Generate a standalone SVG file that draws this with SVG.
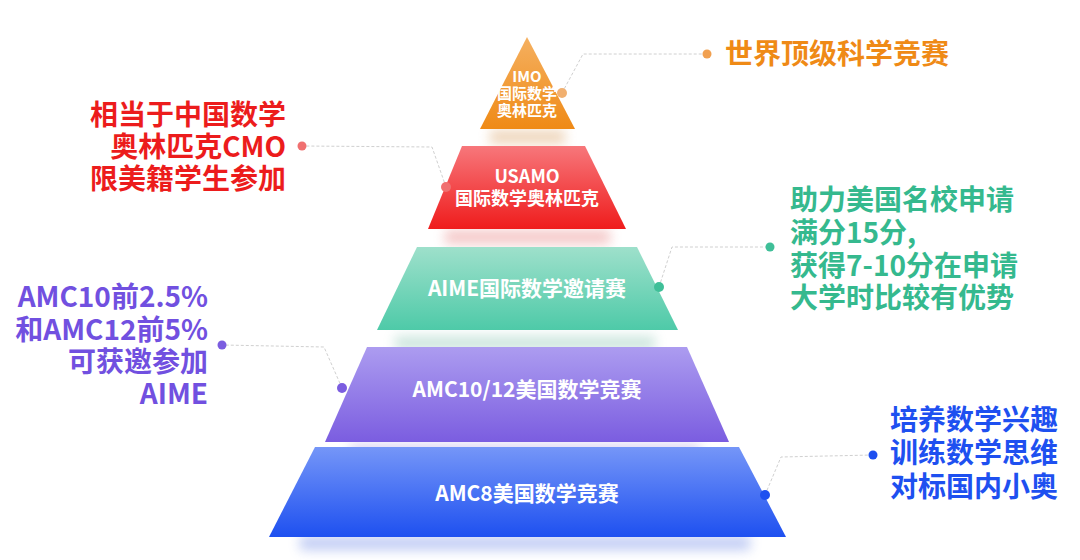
<svg xmlns="http://www.w3.org/2000/svg" width="1080" height="560" viewBox="0 0 1080 560">
<style>
.t{font-family:"Noto Sans CJK SC","Noto Sans",sans-serif;font-weight:700;fill:#fff}
.n{font-family:"Noto Sans CJK SC","Noto Sans",sans-serif;font-weight:700;font-size:28px}
.ld{fill:none;stroke:#d0d0d0;stroke-width:1;stroke-dasharray:3 2}
</style>
<defs>
<linearGradient id="g1" x1="0" y1="0" x2="0" y2="1"><stop offset="0" stop-color="#f5b060"/><stop offset="1" stop-color="#ef8a16"/></linearGradient>
<linearGradient id="g2" x1="0" y1="0" x2="0" y2="1"><stop offset="0" stop-color="#f7777b"/><stop offset="1" stop-color="#ef1c1c"/></linearGradient>
<linearGradient id="g3" x1="0" y1="0" x2="0" y2="1"><stop offset="0" stop-color="#9ee0cb"/><stop offset="1" stop-color="#4ecaa8"/></linearGradient>
<linearGradient id="g4" x1="0" y1="0" x2="0" y2="1"><stop offset="0" stop-color="#ac9cf0"/><stop offset="1" stop-color="#7b5de0"/></linearGradient>
<linearGradient id="g5" x1="0" y1="0" x2="0" y2="1"><stop offset="0" stop-color="#7596f8"/><stop offset="1" stop-color="#1e50f0"/></linearGradient>
<filter id="sh" x="-20%" y="-20%" width="140%" height="160%"><feGaussianBlur stdDeviation="6"/></filter>
</defs>
<g id="shadows" opacity="0.35" filter="url(#sh)">
<rect x="490" y="130" width="75" height="14" fill="#d08a40"/>
<rect x="445" y="230" width="165" height="14" fill="#e06060"/>
<rect x="395" y="336" width="260" height="14" fill="#70b8a0"/>
<rect x="350" y="443" width="350" height="14" fill="#a090e0"/>
<rect x="300" y="536" width="450" height="14" fill="#5070e0"/>
</g>
<g id="connectors">
<polyline class="ld" points="562,93 583,54 707,54"/>
<polyline class="ld" points="446,187 432,147 302,146"/>
<polyline class="ld" points="659,287 672,247 770,247"/>
<polyline class="ld" points="342,388 324,347 222,345"/>
<polyline class="ld" points="765,495 781,457 873,455"/>
</g>
<g id="imo">
<polygon points="527,37 575,129 480,129" fill="url(#g1)"/>
<text class="t" text-anchor="middle" font-size="15"><tspan x="527" y="82">IMO</tspan><tspan x="527" y="99">国际数学</tspan><tspan x="527" y="116">奥林匹克</tspan></text>
<circle cx="562" cy="93" r="5" fill="#f1b070"/>
<circle cx="707" cy="54" r="4.5" fill="#f1a050"/>
<text class="n" x="725" y="64" fill="#ef8a16">世界顶级科学竞赛</text>
</g>
<g id="usamo">
<polygon points="462,146 585,146 626,229 428,229" fill="url(#g2)"/>
<text class="t" text-anchor="middle" font-size="18"><tspan x="527" y="183">USAMO</tspan><tspan x="527" y="205">国际数学奥林匹克</tspan></text>
<circle cx="446" cy="187" r="5" fill="#f07070"/>
<circle cx="302" cy="146" r="4.5" fill="#f07070"/>
<text class="n" text-anchor="end" fill="#ec1c1c"><tspan x="286" y="125">相当于中国数学</tspan><tspan x="286" y="157">奥林匹克CMO</tspan><tspan x="286" y="189">限美籍学生参加</tspan></text>
</g>
<g id="aime">
<polygon points="417,247 637,247 678,330 377,330" fill="url(#g3)"/>
<text class="t" x="527" y="296" text-anchor="middle" font-size="21">AIME国际数学邀请赛</text>
<circle cx="659" cy="287" r="5" fill="#3fbf98"/>
<circle cx="770" cy="247" r="4.5" fill="#3fbf98"/>
<text class="n" fill="#35b98e"><tspan x="790" y="210">助力美国名校申请</tspan><tspan x="790" y="243">满分15分,</tspan><tspan x="790" y="276">获得7-10分在申请</tspan><tspan x="790" y="308">大学时比较有优势</tspan></text>
</g>
<g id="amc1012">
<polygon points="367,347 687,347 729,442 325,442" fill="url(#g4)"/>
<text class="t" x="527" y="397" text-anchor="middle" font-size="21">AMC10/12美国数学竞赛</text>
<circle cx="342" cy="388" r="5" fill="#7b5de0"/>
<circle cx="222" cy="345" r="4.5" fill="#7b5de0"/>
<text class="n" text-anchor="end" fill="#7150e0"><tspan x="208" y="307">AMC10前2.5%</tspan><tspan x="208" y="340">和AMC12前5%</tspan><tspan x="208" y="372">可获邀参加</tspan><tspan x="208" y="404">AIME</tspan></text>
</g>
<g id="amc8">
<polygon points="315,447 739,447 786,537 269,537" fill="url(#g5)"/>
<text class="t" x="527" y="501" text-anchor="middle" font-size="21">AMC8美国数学竞赛</text>
<circle cx="765" cy="495" r="5" fill="#1e50f0"/>
<circle cx="873" cy="455" r="4.5" fill="#1e50f0"/>
<text class="n" fill="#1e50f0"><tspan x="890" y="430">培养数学兴趣</tspan><tspan x="890" y="463">训练数学思维</tspan><tspan x="890" y="497">对标国内小奥</tspan></text>
</g>
</svg>
